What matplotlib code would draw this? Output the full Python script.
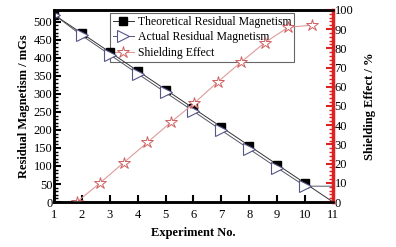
import matplotlib.pyplot as plt
import numpy as np
from matplotlib.ticker import MultipleLocator

plt.rcParams['font.family'] = ['Liberation Serif', 'DejaVu Serif']

# data
exp_no = [1, 2, 3, 4, 5, 6, 7, 8, 9, 10, 11]
theoretical = [520, 468, 416, 364, 312, 260, 208, 156, 104, 52, 0]
actual = [520, 462, 409, 356, 304, 252, 199, 147, 95, 44, 44]
shield_x = [1.82, 2.66, 3.5, 4.35, 5.19, 6.03, 6.87, 7.72, 8.56, 9.4, 10.25]
shield_eff = [0, 10, 20.5, 31, 41.5, 51.5, 62.5, 73, 83, 91, 92]

fig = plt.figure(figsize=(3.96, 2.47), dpi=100)
ax = fig.add_axes([0.136, 0.182, 0.705, 0.778])
ax2 = ax.twinx()

l1, = ax.plot(exp_no, theoretical, color='#333333', lw=0.7, marker='s', ms=6,
              mfc='black', mec='black', markevery=slice(0, 10), zorder=6,
              label='Theoretical Residual Magnetism')
l2, = ax.plot(exp_no, actual, color='#555566', lw=0.7, marker='>', ms=9,
              mfc='white', mec='#555588', mew=0.8, markevery=slice(0, 10), zorder=6,
              label='Actual Residual Magnetism')
l3, = ax2.plot(shield_x, shield_eff, color='#e09a9a', lw=0.8, marker='*', ms=9,
               mfc='white', mec='#d06060', mew=0.7, label='Shielding Effect')

ax.set_xlim(1, 11)
ax.set_ylim(0, 533)
ax2.set_ylim(0, 100)
ax.xaxis.set_major_locator(MultipleLocator(1))
ax.yaxis.set_major_locator(MultipleLocator(50))
ax.yaxis.set_minor_locator(MultipleLocator(10))
ax2.yaxis.set_major_locator(MultipleLocator(10))
ax2.yaxis.set_minor_locator(MultipleLocator(2))

ax.tick_params(axis='x', direction='in', length=5, width=1.5, labelsize=9, pad=5)
ax.tick_params(axis='y', which='major', direction='in', length=5, width=1.5, labelsize=9, pad=1)
ax.tick_params(axis='y', which='minor', direction='in', length=3, width=1.0)
ax.tick_params(axis='x', which='minor', bottom=False, top=False)
ax2.tick_params(axis='y', which='major', direction='in', length=5, width=1.5, color='#dd2222', labelsize=9, pad=1)
ax2.tick_params(axis='y', which='minor', direction='in', length=3, width=1.0, color='#dd2222')

for s in ['left', 'bottom', 'top']:
    ax.spines[s].set_linewidth(1.8)
    ax2.spines[s].set_linewidth(1.8)
ax2.spines['right'].set_color('#dd2222')
ax2.spines['right'].set_linewidth(2.5)
ax.spines['right'].set_visible(False)

ax.set_xlabel('Experiment No.', fontsize=9, fontweight='bold', labelpad=4)
ax.set_ylabel('Residual Magnetism / mGs', fontsize=9, fontweight='bold', labelpad=3)
ax2.set_ylabel('Shielding Effect / %', fontsize=9, fontweight='bold', labelpad=8)

leg = ax.legend(handles=[l1, l2, l3], loc='upper left', bbox_to_anchor=(0.19, 1.0),
                fontsize=8.5, frameon=True, fancybox=False, edgecolor='#666666',
                handlelength=1.8, handletextpad=0.3, labelspacing=0.3,
                borderpad=0.25, borderaxespad=0.25, framealpha=1)
leg.get_frame().set_linewidth(0.8)
leg.set_zorder(3)

fig.savefig('out.png', dpi=100)
